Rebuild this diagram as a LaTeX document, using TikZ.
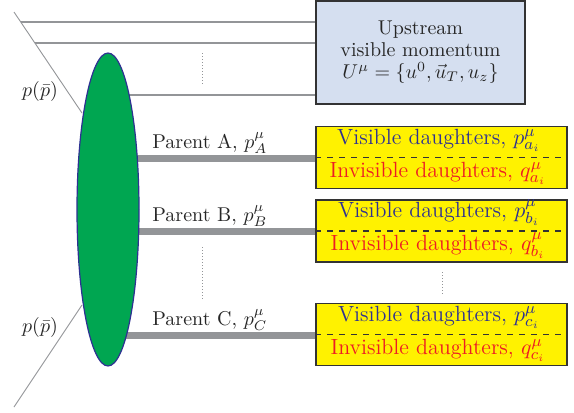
\documentclass[tikz,border=0pt]{standalone}
\usetikzlibrary{shapes.geometric}
\definecolor{upblue}{HTML}{D5DFF0}
\definecolor{dyellow}{HTML}{FFF200}
\definecolor{blobgreen}{HTML}{00A651}
\definecolor{lgray}{HTML}{939598}
\definecolor{visblue}{HTML}{2E3192}
\definecolor{invred}{HTML}{ED1C24}
\definecolor{bordergray}{HTML}{333333}
\tikzset{
  thinline/.style={draw=lgray, line width=0.75pt},
  beamline/.style={draw=lgray, line width=0.45pt},
  parentline/.style={draw=lgray, line width=3.5pt},
  dotline/.style={draw=lgray, densely dotted, line width=0.5pt},
  daughterbox/.style={draw=bordergray, fill=dyellow, line width=0.7pt, minimum width=125.5pt, minimum height=31pt, inner sep=0pt},
  vistext/.style={text=visblue, inner sep=0pt, anchor=base, font=\fontsize{11}{13}\selectfont},
  invtext/.style={text=invred, inner sep=0pt, anchor=base, font=\fontsize{11}{13}\selectfont},
  plabel/.style={anchor=base west, inner sep=0pt, text=black!85},
}
\begin{document}
\begin{tikzpicture}[x=0.5pt, y=-0.5pt]
\useasboundingbox (0,0) rectangle (574,413);
% upstream box
\node[draw=bordergray, fill=upblue, line width=0.7pt, minimum width=104.5pt, minimum height=51.5pt, inner sep=0pt] (up) at (420.5,52.5) {};
\node[align=center, text=black!85, inner sep=0pt] (uptext) at (420.5,52) {Upstream\\[-1pt]visible momentum\\[-1pt]$U^\mu=\{u^0,\vec{u}_T,u_z\}$};
% daughter boxes
\node[daughterbox] (boxA) at (441.5,157.5) {};
\node[daughterbox] (boxB) at (441.5,231) {};
\node[daughterbox] (boxC) at (441.5,334.5) {};
\draw[dashed, line width=0.6pt, draw=black!80] (boxA.west) -- (boxA.east);
\draw[dashed, line width=0.6pt, draw=black!80] (boxB.west) -- (boxB.east);
\draw[dashed, line width=0.6pt, draw=black!80] (boxC.west) -- (boxC.east);
\node[vistext] (visA) at (439,144) {Visible daughters, $p^\mu_{a_i}$};
\node[invtext] (invA) at (438,177) {Invisible daughters, $q^\mu_{a_i}$};
\node[vistext] (visB) at (439,217) {Visible daughters, $p^\mu_{b_i}$};
\node[invtext] (invB) at (438,250) {Invisible daughters, $q^\mu_{b_i}$};
\node[vistext] (visC) at (439,321) {Visible daughters, $p^\mu_{c_i}$};
\node[invtext] (invC) at (438,354) {Invisible daughters, $q^\mu_{c_i}$};
% beam lines
\coordinate (bt) at (14,12);
\coordinate (bte) at (82,113);
\coordinate (bb) at (14,407);
\coordinate (bbe) at (82,305);
\draw[beamline] (bt) -- (bte);
\draw[beamline] (bb) -- (bbe);
% upstream lines
\coordinate (u1) at (20.7,22);
\coordinate (u2) at (35,43);
\coordinate (u3) at (108,95);
\draw[thinline] (u1) -- (u1 -| up.west);
\draw[thinline] (u2) -- (u2 -| up.west);
\draw[thinline] (u3) -- (u3 -| up.west);
% parent lines
\coordinate (pA) at (108,158);
\coordinate (pB) at (108,231);
\coordinate (pC) at (108,335);
\draw[parentline] (pA) -- (pA -| boxA.west);
\draw[parentline] (pB) -- (pB -| boxB.west);
\draw[parentline] (pC) -- (pC -| boxC.west);
% blob
\node[ellipse, draw=visblue, fill=blobgreen, line width=0.6pt, minimum width=31pt, minimum height=156.5pt, inner sep=0pt] (blob) at (108,209.5) {};
% dots
\coordinate (d1a) at (202,53);
\coordinate (d1b) at (202,85);
\coordinate (d2a) at (202,247);
\coordinate (d2b) at (202,300);
\coordinate (d3a) at (442,272);
\coordinate (d3b) at (442,294);
\draw[dotline] (d1a) -- (d1b);
\draw[dotline] (d2a) -- (d2b);
\draw[dotline] (d3a) -- (d3b);
% labels
\node[plabel] (labA) at (152,148) {Parent A, $p^\mu_A$};
\node[plabel] (labB) at (152,221) {Parent B, $p^\mu_B$};
\node[plabel] (labC) at (152,325) {Parent C, $p^\mu_C$};
\node[text=black!85, inner sep=0pt] (pp1) at (40,91) {$p(\bar{p})$};
\node[text=black!85, inner sep=0pt] (pp2) at (40,327) {$p(\bar{p})$};
\end{tikzpicture}
\end{document}
